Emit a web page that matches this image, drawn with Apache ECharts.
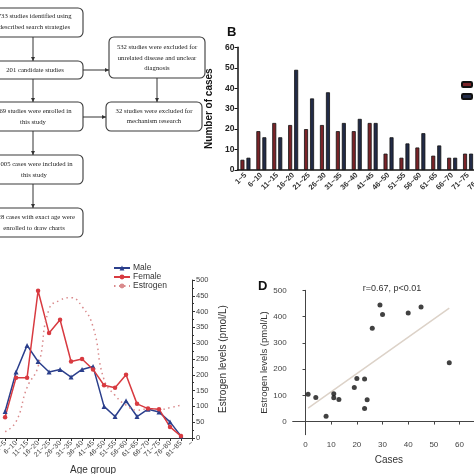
<!DOCTYPE html>
<html><head><meta charset="utf-8">
<script src="https://cdn.jsdelivr.net/npm/echarts@6/dist/echarts.min.js"></script>
<style>html,body{margin:0;padding:0;background:#fff}#c{width:474px;height:474px}</style>
</head><body><div id="c"></div>
<script>
// ---- Panel B data ----
const AGE_B = ['1~5','6~10','11~15','16~20','21~25','26~30','31~35','36~40','41~45','46~50','51~55','56~60','61~65','66~70','71~75','76~80'];
const FEMALE_CASES = [5,19,23,22,20,22,19,19,23,8,6,11,7,6,8,4];
const MALE_CASES   = [6,16,16,49,35,38,23,25,23,16,13,18,12,6,8,5];
const B_TICKS = [0,10,20,30,40,50,60];
// ---- Panel C data ----
const AGE_C = ['1~5','6~10','11~15','16~20','21~25','26~30','31~35','36~40','41~45','46~50','51~55','56~60','61~65','66~70','71~75','76~80','81~85','~'];
const MALE_LINE   = [84,209,293,242,209,217,193,217,226,100,68,118,68,91,82,51,6,null];
const FEMALE_LINE = [66,191,191,466,332,374,242,250,217,167,159,200,108,93,91,35,6,null];
const ESTROGEN    = [20,52,160,226,408,436,444,416,352,185,135,104,88,92,90,96,104,null];
// ---- Panel D data ----
const CASES     = [1,4,8,11,11,13,19,20,23,23,24,26,29,30,40,45,56];
const ESTRO_LVL = [104,92,20,106,91,84,130,164,162,50,83,355,444,408,414,436,224];
const FIT_X = [1,56];
const FIT_Y = [51,432];
const D_XTICKS = [0,10,20,30,40,50,60,70];
const D_YTICKS = [0,100,200,300,400,500];

// ---- Flowchart (panel A) ----
const SERIF = '"Liberation Serif","DejaVu Serif",serif';
const SANS = '"Liberation Sans",Arial,sans-serif';
const boxes = [
  {x:-13,y:8,w:96,h:29},{x:-13,y:61,w:96,h:18},{x:-13,y:102,w:96,h:29},
  {x:-13,y:155,w:96,h:29},{x:-13,y:208,w:96,h:29},
  {x:109,y:37,w:96,h:41},{x:106,y:102,w:96,h:29}
];
const texts = [
  {t:'733 studies identified using',x:71.5,y:16.5,a:'right'},
  {t:'the described search strategies',x:70,y:27,a:'right'},
  {t:'201 candidate studies',x:35,y:70,a:'center'},
  {t:'169 studies were enrolled in',x:71.5,y:111,a:'right'},
  {t:'this study',x:33,y:122,a:'center'},
  {t:'1005 cases were included in',x:72.5,y:164.5,a:'right'},
  {t:'this study',x:34,y:175,a:'center'},
  {t:'528 cases with exact age were',x:75,y:217,a:'right'},
  {t:'enrolled to draw charts',x:34,y:228,a:'center'},
  {t:'532 studies were excluded for',x:157,y:47.5,a:'center'},
  {t:'unrelated disease and unclear',x:157,y:58,a:'center'},
  {t:'diagnosis',x:157,y:68.5,a:'center'},
  {t:'32 studies were excluded for',x:154,y:111,a:'center'},
  {t:'mechanism research',x:154,y:121.5,a:'center'}
];
const arrows = [
  [33,37,33,61],[33,79,33,102],[33,131,33,155],[33,184,33,208],
  [83,70,109,70],[83,117,106,117],[157,78,157,102]
];
const graphics = [];
boxes.forEach(b=>graphics.push({type:'rect',shape:{x:b.x,y:b.y,width:b.w,height:b.h,r:5},style:{fill:'#fff',stroke:'#3a3a3a',lineWidth:1.1}}));
texts.forEach(t=>graphics.push({type:'text',x:t.x,y:t.y,style:{text:t.t,font:'6.7px '+SERIF,fill:'#222',textAlign:t.a,textVerticalAlign:'middle'}}));
arrows.forEach(a=>{
  const [x1,y1,x2,y2]=a;
  graphics.push({type:'line',shape:{x1,y1,x2,y2},style:{stroke:'#333',lineWidth:1}});
  let pts;
  if (x1===x2) pts=[[x2-2,y2-4],[x2+2,y2-4],[x2,y2]];
  else pts=[[x2-4,y2-2],[x2-4,y2+2],[x2,y2]];
  graphics.push({type:'polygon',shape:{points:pts},style:{fill:'#333'}});
});

const chart = echarts.init(document.getElementById('c'));
chart.setOption({
  animation:false,
  backgroundColor:'#fff',
  textStyle:{fontFamily:SANS},
  graphic:graphics,
  title:[
    {text:'B',left:222,top:21,textStyle:{fontSize:13,fontWeight:'bold',color:'#111',fontFamily:SANS}},
    {text:'D',left:253,top:275,textStyle:{fontSize:13,fontWeight:'bold',color:'#111',fontFamily:SANS}},
    {text:'r=0.67, p<0.01',left:387,top:279,textAlign:'center',textStyle:{fontSize:9,fontWeight:'normal',color:'#333',fontFamily:SANS}}
  ],
  legend:[
    {data:['Female cases','Male cases'],left:456,top:75,orient:'vertical',itemWidth:10,itemHeight:5,itemGap:3,textStyle:{fontSize:9,lineHeight:9},selectedMode:false},
    {data:['Male','Female','Estrogen'],left:108,top:258.5,orient:'vertical',itemWidth:16,itemHeight:6,itemGap:0,textStyle:{fontSize:8.5,lineHeight:8.3,color:'#333',padding:[0,0,0,-2]},selectedMode:false}
  ],
  grid:[
    {left:237.5,top:47.3,right:-17.9,bottom:304,outerBoundsMode:'none',containLabel:false},
    {left:-5.9,top:280,right:282,bottom:36,outerBoundsMode:'none',containLabel:false},
    {left:292.7,top:290.3,right:-11.2,bottom:39.3,outerBoundsMode:'none',containLabel:false}
  ],
  xAxis:[
    {gridIndex:0,type:'category',data:AGE_B,
      axisLine:{lineStyle:{color:'#111',width:1.5}},
      axisTick:{alignWithLabel:true,length:3,lineStyle:{color:'#111'}},
      axisLabel:{rotate:45,interval:0,fontSize:7.5,fontWeight:'bold',color:'#333',margin:4}},
    {gridIndex:1,type:'category',data:[''].concat(AGE_C),boundaryGap:false,
      name:'Age group',nameLocation:'middle',nameGap:27,nameTextStyle:{fontSize:10,color:'#333'},
      axisLine:{lineStyle:{color:'#333',width:1}},
      axisTick:{length:3,interval:0,lineStyle:{color:'#333'}},
      axisLabel:{rotate:45,interval:0,fontSize:7,color:'#444',margin:4}},
    {gridIndex:2,type:'value',min:-5,max:70,
      name:'Cases',nameLocation:'middle',nameGap:21,nameTextStyle:{fontSize:10,color:'#333'},
      axisLine:{lineStyle:{color:'#444',width:1}},
      axisTick:{show:true,length:3,customValues:D_XTICKS,lineStyle:{color:'#444'}},
      axisLabel:{fontSize:8,color:'#444',margin:6,customValues:D_XTICKS},
      splitLine:{show:false}}
  ],
  yAxis:[
    {gridIndex:0,type:'value',min:0,max:60,interval:10,
      name:'Number of cases',nameLocation:'middle',nameGap:16,nameTextStyle:{fontSize:10,fontWeight:'bold',color:'#111'},
      axisLine:{show:true,lineStyle:{color:'#111',width:1.5}},
      axisTick:{show:true,length:3,lineStyle:{color:'#111'}},
      axisLabel:{fontSize:8.5,fontWeight:'bold',color:'#222',margin:3,
        formatter:v=>B_TICKS.indexOf(v)>=0?String(v):''},
      splitLine:{show:false}},
    {gridIndex:1,type:'value',position:'right',min:0,max:500,interval:50,
      name:'Estrogen levels (pmol/L)',nameLocation:'middle',nameGap:26,nameRotate:90,nameTextStyle:{fontSize:10,color:'#333'},
      axisLine:{show:true,lineStyle:{color:'#333',width:1}},
      axisTick:{show:true,length:3,lineStyle:{color:'#333'}},
      minorTick:{show:true,splitNumber:2,length:2,lineStyle:{color:'#333'}},
      axisLabel:{fontSize:7.5,color:'#444',margin:4},
      splitLine:{show:false}},
    {gridIndex:1,type:'value',min:0,max:500,show:false,splitLine:{show:false}},
    {gridIndex:2,type:'value',min:-50,max:500,
      name:'Estrogen levels (pmol/L)',nameLocation:'middle',nameGap:22,nameTextStyle:{fontSize:9.5,color:'#333'},
      axisLine:{show:true,lineStyle:{color:'#444',width:1}},
      axisTick:{show:true,length:3,customValues:D_YTICKS,lineStyle:{color:'#444'}},
      axisLabel:{fontSize:8,color:'#444',margin:6,customValues:D_YTICKS},
      splitLine:{show:false}}
  ],
  series:[
    {name:'Female cases',type:'bar',xAxisIndex:0,yAxisIndex:0,data:FEMALE_CASES,barWidth:4,barGap:'50%',
      itemStyle:{color:'#7a2328',borderColor:'#111',borderWidth:0.8}},
    {name:'Male cases',type:'bar',xAxisIndex:0,yAxisIndex:0,data:MALE_CASES,barWidth:4,
      itemStyle:{color:'#222b47',borderColor:'#111',borderWidth:0.8}},
    {name:'Male',type:'line',xAxisIndex:1,yAxisIndex:2,data:[null].concat(MALE_LINE),
      symbol:'triangle',symbolSize:5,lineStyle:{color:'#2b3f8c',width:1.5},itemStyle:{color:'#2b3f8c'}},
    {name:'Female',type:'line',xAxisIndex:1,yAxisIndex:2,data:[null].concat(FEMALE_LINE),
      symbol:'circle',symbolSize:4.5,lineStyle:{color:'#d83a40',width:1.5},itemStyle:{color:'#d83a40'}},
    {name:'Estrogen',type:'line',xAxisIndex:1,yAxisIndex:1,data:[null].concat(ESTROGEN),smooth:0.5,
      symbol:'none',lineStyle:{color:'#d98a8c',width:1.5,type:[1.5,3.5]},itemStyle:{color:'#d98a8c'}},
    {name:'Points',type:'scatter',xAxisIndex:2,yAxisIndex:3,data:CASES.map((c,i)=>[c,ESTRO_LVL[i]]),
      symbolSize:5,itemStyle:{color:'#111'}},
    {name:'Fit',type:'line',xAxisIndex:2,yAxisIndex:3,data:FIT_X.map((x,i)=>[x,FIT_Y[i]]),
      symbol:'none',lineStyle:{color:'#dcd2c8',width:1.5},z:1}
  ]
});
</script></body></html>
